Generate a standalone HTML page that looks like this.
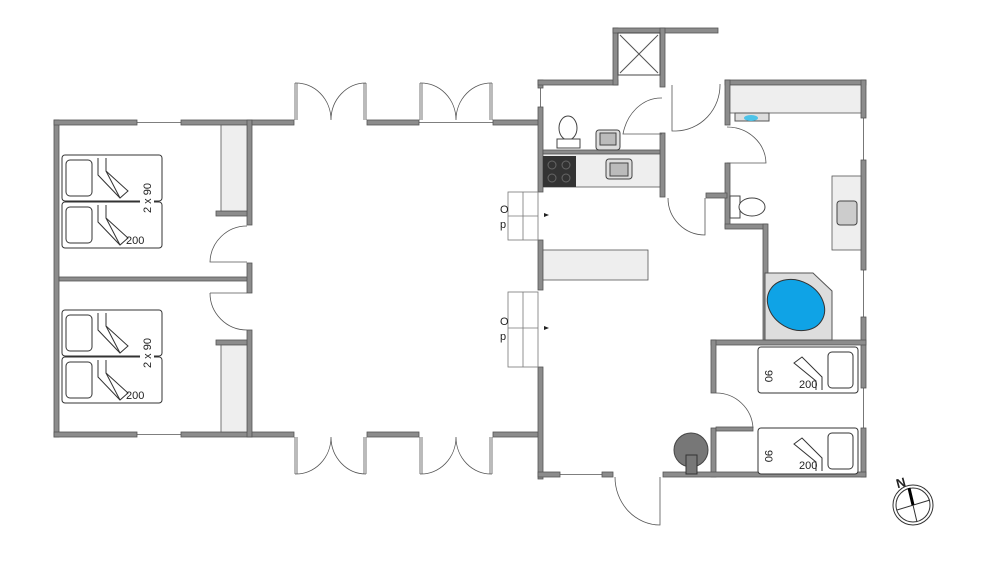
<!DOCTYPE html>
<html><head><meta charset="utf-8"><style>
html,body{margin:0;padding:0;background:#fff;width:1000px;height:562px;overflow:hidden}
svg{display:block}
text{font-family:"Liberation Sans",sans-serif;fill:#222}
</style></head><body>
<svg width="1000" height="562" viewBox="0 0 1000 562" xmlns="http://www.w3.org/2000/svg">
<defs>
<g id="bedL">
 <rect x="0" y="0" width="100" height="46" rx="3" fill="#fff" stroke="#333" stroke-width="1"/>
 <rect x="4" y="5" width="26" height="36" rx="4" fill="#fff" stroke="#333"/>
 <path d="M36 3 V20 L58 43 L66 36 L44 16 V3" fill="#fff" stroke="#333"/>
 <path d="M44 16 L58 43" fill="none" stroke="#333"/>
</g>
<g id="bedR">
 <rect x="0" y="0" width="100" height="46" rx="3" fill="#fff" stroke="#333"/>
 <rect x="70" y="5" width="25" height="36" rx="4" fill="#fff" stroke="#333"/>
 <path d="M64 43 V30 L44 10 L36 16 L58 34 V43" fill="#fff" stroke="#333"/>
</g>
</defs>
<g fill="#8c8c8c" stroke="#555" stroke-width="0.8">
 <rect x="54" y="120" width="5" height="317"/>
 <rect x="54" y="120" width="83" height="5"/>
 <rect x="181" y="120" width="71" height="5"/>
 <rect x="54" y="432" width="83" height="5"/>
 <rect x="181" y="432" width="71" height="5"/>
 <rect x="59" y="277" width="190" height="4"/>
 <rect x="247" y="120" width="5" height="105"/>
 <rect x="247" y="263" width="5" height="30"/>
 <rect x="247" y="330" width="5" height="107"/>
 <rect x="216" y="211" width="31" height="5"/>
 <rect x="216" y="340" width="31" height="5"/>
 <rect x="252" y="120" width="42" height="5"/>
 <rect x="367" y="120" width="52" height="5"/>
 <rect x="493" y="120" width="47" height="5"/>
 <rect x="252" y="432" width="42" height="5"/>
 <rect x="367" y="432" width="52" height="5"/>
 <rect x="493" y="432" width="47" height="5"/>
 <rect x="538" y="80" width="5" height="8"/>
 <rect x="538" y="107" width="5" height="85"/>
 <rect x="538" y="240" width="5" height="50"/>
 <rect x="538" y="367" width="5" height="112"/>
 <rect x="538" y="80" width="80" height="5"/>
 <rect x="613" y="28" width="5" height="57"/>
 <rect x="613" y="28" width="105" height="5"/>
 <rect x="660" y="28" width="5" height="59"/>
 <rect x="660" y="133" width="5" height="64"/>
 <rect x="543" y="150" width="117" height="4"/>
 <rect x="725" y="80" width="141" height="5"/>
 <rect x="725" y="80" width="5" height="45"/>
 <rect x="725" y="163" width="5" height="65"/>
 <rect x="706" y="193" width="21" height="5"/>
 <rect x="725" y="224" width="42" height="5"/>
 <rect x="763" y="224" width="5" height="120"/>
 <rect x="861" y="80" width="5" height="38"/>
 <rect x="861" y="160" width="5" height="110"/>
 <rect x="861" y="317" width="5" height="71"/>
 <rect x="861" y="428" width="5" height="49"/>
 <rect x="711" y="340" width="155" height="5"/>
 <rect x="711" y="340" width="5" height="53"/>
 <rect x="711" y="428" width="5" height="49"/>
 <rect x="716" y="427" width="37" height="4"/>
 <rect x="538" y="472" width="22" height="5"/>
 <rect x="602" y="472" width="11" height="5"/>
 <rect x="663" y="472" width="203" height="5"/>
</g>
<g fill="none" stroke="#555" stroke-width="0.8">
 <line x1="137" y1="122.5" x2="181" y2="122.5"/>
 <line x1="137" y1="434.5" x2="181" y2="434.5"/>
 <line x1="419" y1="122.5" x2="493" y2="122.5"/>
 <line x1="540.5" y1="88" x2="540.5" y2="107"/>
 <line x1="560" y1="474.5" x2="602" y2="474.5"/>
 <line x1="863.5" y1="118" x2="863.5" y2="160"/>
 <line x1="863.5" y1="270" x2="863.5" y2="317"/>
 <line x1="863.5" y1="388" x2="863.5" y2="428"/>
 <path d="M295 120 V83 M297 120 V83 M295 83 A35 37 0 0 1 331 120 M366 120 V83 M364 120 V83 M366 83 A35 37 0 0 0 331 120"/>
 <path d="M420 120 V83 M422 120 V83 M420 83 A35 37 0 0 1 456 120 M492 120 V83 M490 120 V83 M492 83 A35 37 0 0 0 456 120"/>
 <path d="M295 437 V474 M297 437 V474 M295 474 A35 37 0 0 0 331 437 M366 437 V474 M364 437 V474 M366 474 A35 37 0 0 1 331 437"/>
 <path d="M420 437 V474 M422 437 V474 M420 474 A35 37 0 0 0 456 437 M492 437 V474 M490 437 V474 M492 474 A35 37 0 0 1 456 437"/>
 <path d="M247 226 A37 37 0 0 0 210 262 H247"/>
 <path d="M210 293 H247 M210 293 A37 37 0 0 0 247 330"/>
 <path d="M662 134 H623 A39 46 0 0 1 662 98"/>
 <path d="M672 85 V131 H676 A45 46 0 0 0 720 84"/>
 <path d="M727 127 A39 37 0 0 1 766 163 H727"/>
 <path d="M668 198 A37 37 0 0 0 705 235 V198"/>
 <path d="M716 393 A37 37 0 0 1 753 428"/>
 <path d="M615 477 A45 48 0 0 0 660 525 V477"/>
</g>
<rect x="221" y="125" width="26" height="86" fill="#eee" stroke="#555" stroke-width="0.8"/>
<rect x="221" y="345" width="26" height="87" fill="#eee" stroke="#555" stroke-width="0.8"/>
<use href="#bedL" x="62" y="155"/><use href="#bedL" x="62" y="202"/>
<use href="#bedL" x="62" y="310"/><use href="#bedL" x="62" y="357"/>
<rect x="140" y="183" width="14" height="30" fill="#fff"/>
<rect x="140" y="338" width="14" height="30" fill="#fff"/>
<text x="0" y="0" font-size="11" transform="translate(151,213) rotate(-90)">2 x 90</text>
<text x="0" y="0" font-size="11" transform="translate(151,368) rotate(-90)">2 x 90</text>
<text x="126" y="244" font-size="11">200</text>
<text x="126" y="399" font-size="11">200</text>
<g fill="#fff" stroke="#777" stroke-width="0.8">
 <rect x="508" y="192" width="30" height="48"/><line x1="523" y1="192" x2="523" y2="240"/><line x1="508" y1="216" x2="538" y2="216"/>
 <rect x="508" y="292" width="30" height="75"/><line x1="523" y1="292" x2="523" y2="367"/><line x1="508" y1="328" x2="538" y2="328"/>
</g>
<text x="500" y="213" font-size="11">O</text><text x="500" y="228" font-size="11">p</text>
<text x="500" y="325" font-size="11">O</text><text x="500" y="340" font-size="11">p</text>
<path d="M544 213 L549 215 L544 217Z M544 326 L549 328 L544 330Z" fill="#222"/>
<rect x="543" y="250" width="105" height="30" fill="#eee" stroke="#555" stroke-width="0.8"/>
<rect x="543" y="154" width="117" height="33" fill="#eee" stroke="#555" stroke-width="0.8"/>
<rect x="543" y="156" width="33" height="31" fill="#333"/>
<g fill="none" stroke="#666"><circle cx="552" cy="165" r="4"/><circle cx="566" cy="165" r="4"/><circle cx="552" cy="178" r="4"/><circle cx="566" cy="178" r="4"/></g>
<rect x="606" y="159" width="26" height="20" rx="3" fill="#ddd" stroke="#444"/><rect x="610" y="163" width="18" height="13" fill="#bbb" stroke="#444"/>
<ellipse cx="568" cy="128" rx="9" ry="12" fill="#fff" stroke="#444"/><rect x="557" y="139" width="23" height="9" fill="#fff" stroke="#444"/>
<rect x="596" y="130" width="24" height="20" rx="3" fill="#ddd" stroke="#444"/><rect x="600" y="133" width="16" height="12" fill="#bbb" stroke="#444"/>
<rect x="618" y="33" width="42" height="42" fill="#fff" stroke="#444"/>
<path d="M620 35 L658 73 M658 35 L620 73" stroke="#555"/>
<rect x="730" y="85" width="131" height="28" fill="#eee" stroke="#555" stroke-width="0.8"/>
<rect x="735" y="113" width="34" height="8" fill="#ddd" stroke="#555"/><ellipse cx="751" cy="118" rx="7" ry="3" fill="#4cc3e8"/>
<rect x="832" y="176" width="29" height="74" fill="#eee" stroke="#555" stroke-width="0.8"/>
<rect x="837" y="201" width="20" height="24" rx="3" fill="#ccc" stroke="#444"/>
<rect x="730" y="196" width="10" height="22" fill="#fff" stroke="#444"/><ellipse cx="752" cy="207" rx="13" ry="9" fill="#fff" stroke="#444"/>
<path d="M765 273 H813 L832 291 V340 H765Z" fill="#ddd" stroke="#555"/>
<ellipse cx="796" cy="305" rx="30" ry="24" transform="rotate(30 796 305)" fill="#0fa3e6" stroke="#333"/>
<use href="#bedR" x="758" y="347"/><use href="#bedR" x="758" y="428"/>
<text x="0" y="0" font-size="11" transform="translate(765,370) rotate(90)">90</text>
<text x="0" y="0" font-size="11" transform="translate(765,450) rotate(90)">90</text>
<text x="799" y="388" font-size="11">200</text>
<text x="799" y="469" font-size="11">200</text>
<circle cx="691" cy="450" r="17" fill="#777" stroke="#444"/>
<rect x="686" y="455" width="11" height="19" fill="#777" stroke="#333"/>
<circle cx="913" cy="505" r="20" fill="none" stroke="#333"/><circle cx="913" cy="505" r="17" fill="none" stroke="#333"/>
<path d="M897 510 L930 500 M909 488 L917 522" stroke="#333"/>
<path d="M909 488 L913 505" stroke="#000" stroke-width="3"/>
<text x="896" y="487" font-size="13" font-weight="bold" transform="rotate(-15 902 482)">N</text>
</svg>
</body></html>
